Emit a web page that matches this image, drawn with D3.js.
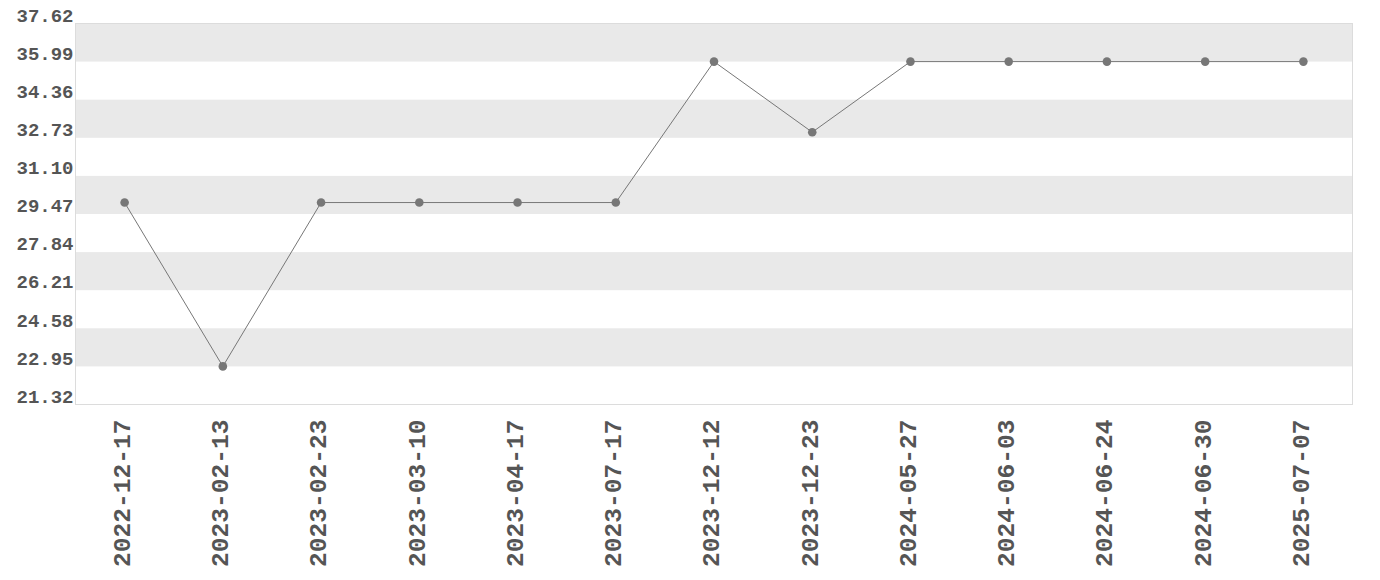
<!DOCTYPE html>
<html><head><meta charset="utf-8">
<script src="https://cdn.jsdelivr.net/npm/d3@7/dist/d3.min.js"></script>
<style>
html,body{margin:0;padding:0;background:#fff;}
svg text{font-family:"Liberation Mono","DejaVu Sans Mono",monospace;font-weight:bold;fill:#555;}
</style></head>
<body><svg id="c" width="1380" height="580"></svg>
<script>
const dates = ["2022-12-17","2023-02-13","2023-02-23","2023-03-10","2023-04-17","2023-07-17","2023-12-12","2023-12-23","2024-05-27","2024-06-03","2024-06-24","2024-06-30","2025-07-07"];
const values = [29.96, 22.95, 29.96, 29.96, 29.96, 29.96, 35.99, 32.97, 35.99, 35.99, 35.99, 35.99, 35.99];
const yTicks = [21.32, 22.95, 24.58, 26.21, 27.84, 29.47, 31.10, 32.73, 34.36, 35.99, 37.62];

const svg = d3.select("#c");
const m = {left:75.5, right:1352.5, top:23.5, bottom:404.5};
const x = d3.scaleBand().domain(dates).range([m.left, m.right]).padding(0);
const y = d3.scaleLinear().domain([yTicks[0], yTicks[yTicks.length-1]]).range([m.bottom, m.top]);

// bands
const bands = [];
for (let i = yTicks.length-1; i > 0; i -= 2) bands.push([yTicks[i], yTicks[i-1]]);
svg.append("g").selectAll("rect").data(bands).join("rect")
  .attr("x", m.left).attr("width", m.right - m.left)
  .attr("y", d => y(d[0])).attr("height", d => y(d[1]) - y(d[0]))
  .attr("fill", "#e9e9e9");

// frame
svg.append("rect").attr("x", m.left).attr("y", m.top)
  .attr("width", m.right - m.left).attr("height", m.bottom - m.top)
  .attr("fill", "none").attr("stroke", "#dcdcdc").attr("stroke-width", 1);

// y axis
const ya = svg.append("g").attr("transform", `translate(${m.left},0)`)
  .call(d3.axisLeft(y).tickValues(yTicks).tickFormat(d3.format(".2f")).tickSize(0).tickPadding(2));
ya.select(".domain").remove();
ya.selectAll("text").attr("font-size", 19).attr("dy", "-0.12em").attr("font-family", null);

// x axis
const xa = svg.append("g").attr("transform", `translate(0,${m.bottom})`)
  .call(d3.axisBottom(x).tickSize(0).tickPadding(0));
xa.select(".domain").remove();
xa.selectAll("text").attr("font-size", 24.6)
  .attr("transform", "rotate(-90)")
  .attr("text-anchor", "end").attr("x", -15).attr("y", 0).attr("dy", "0.22em");

// line
const line = d3.line().x((d,i) => x(dates[i]) + x.bandwidth()/2).y(d => y(d));
svg.append("path").datum(values).attr("d", line)
  .attr("fill", "none").attr("stroke", "#777").attr("stroke-width", 1);
svg.append("g").selectAll("circle").data(values).join("circle")
  .attr("cx", (d,i) => x(dates[i]) + x.bandwidth()/2).attr("cy", d => y(d))
  .attr("r", 4.3).attr("fill", "#777");
</script></body></html>
